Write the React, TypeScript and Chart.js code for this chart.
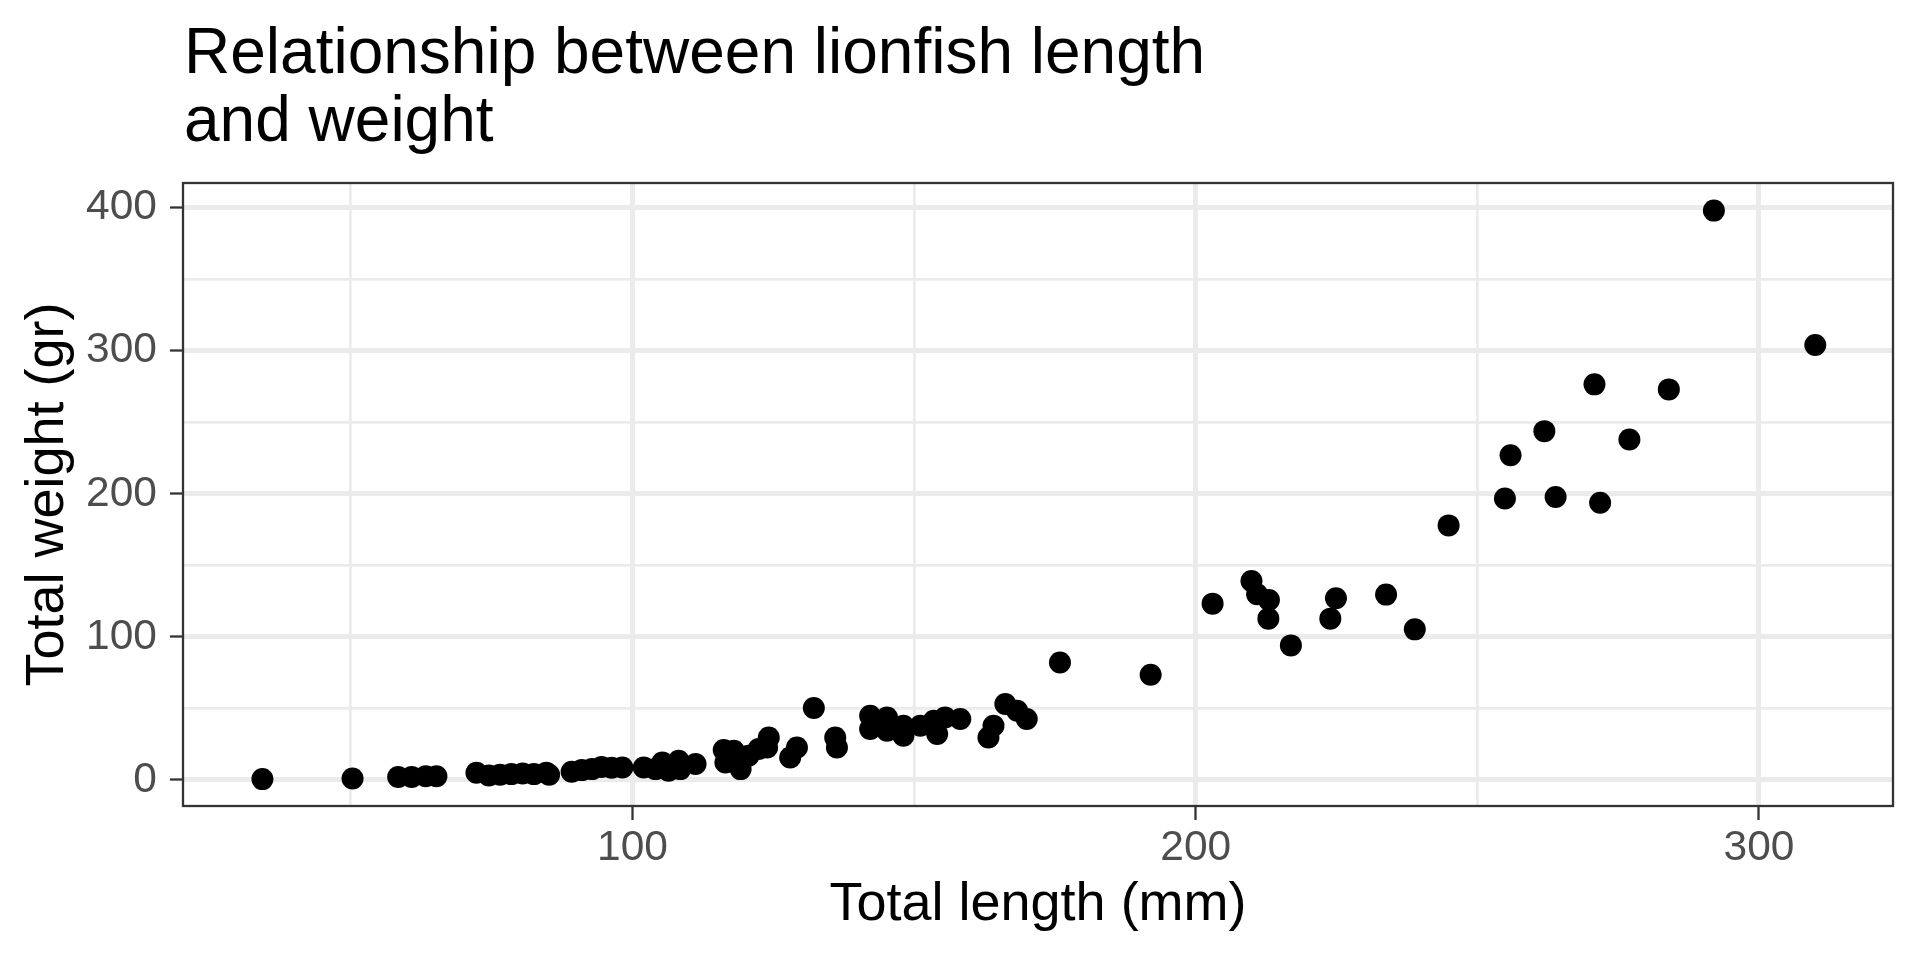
import React, { useEffect, useRef } from 'react';
import { Chart, registerables } from 'chart.js';

Chart.register(...registerables);

const TITLE_LINES = ['Relationship between lionfish length', 'and weight'];
const X_TITLE = 'Total length (mm)';
const Y_TITLE = 'Total weight (gr)';

const lengthMm = [
  34.3, 50.3, 58.4, 60.8, 63.3, 65.2, 72.3, 74.5, 76.5, 78.5,
  80.5, 82.5, 84.7, 85.2, 89.2, 91.0, 92.8, 94.5, 96.3, 98.2,
  102.0, 104.1, 105.3, 106.4, 108.2, 108.5, 111.2, 116.2, 116.5, 118.0,
  119.2, 120.6, 122.4, 123.9, 124.2, 128.0, 129.2, 132.2, 136.0, 136.3,
  142.2, 142.2, 145.2, 145.2, 148.1, 148.1, 151.1, 153.5, 154.1, 155.5,
  158.2, 163.2, 164.1, 166.2, 168.3, 170.0, 175.9, 192.0, 203.0, 209.9,
  210.9, 213.0, 212.9, 216.9, 223.9, 224.9, 233.8, 238.9, 244.9, 254.9,
  255.9, 261.9, 263.9, 270.8, 271.8, 277.0, 284.0, 292.0, 310.0,
];

const weightGr = [
  0.5, 0.9, 2.0, 2.0, 2.5, 2.5, 5.0, 3.0, 3.5, 4.0,
  4.5, 4.0, 5.0, 3.5, 5.6, 6.8, 7.5, 9.0, 8.5, 8.6,
  8.6, 7.5, 12.1, 6.3, 13.3, 7.5, 11.0, 20.8, 12.1, 20.3,
  7.5, 16.8, 21.5, 22.6, 29.6, 15.6, 22.6, 50.2, 29.6, 22.6,
  44.8, 35.5, 43.6, 34.3, 37.8, 30.8, 37.8, 41.3, 32.0, 43.6,
  42.5, 29.6, 37.8, 53.0, 48.3, 42.5, 82.1, 73.5, 123.2, 139.0,
  129.7, 125.8, 112.7, 94.0, 112.7, 126.9, 129.5, 105.2, 177.9, 196.7,
  227.0, 243.8, 197.7, 276.5, 193.7, 238.0, 273.0, 398.0, 304.0,
];

const xGridValues = [50, 100, 150, 200, 250, 300];
const xMajorValues = [100, 200, 300];
const yGridValues = [0, 50, 100, 150, 200, 250, 300, 350, 400];
const yMajorValues = [0, 100, 200, 300, 400];
const xLimits = [20.2, 323.8];
const yLimits = [-18.3, 417.3];

const FONT = '"Liberation Sans", Arial, Helvetica, sans-serif';

const panelPlugin = {
  id: 'ggPanel',
  afterDatasetsDraw(chart: any) {
    const { ctx, chartArea: a } = chart;
    ctx.save();
    ctx.strokeStyle = '#333333';
    ctx.lineWidth = 2.3;
    ctx.strokeRect(a.left, a.top, a.right - a.left, a.bottom - a.top);
    ctx.restore();
  },
  afterDraw(chart: any) {
    const { ctx, chartArea: a } = chart;
    ctx.save();
    ctx.fillStyle = '#000000';
    ctx.font = `64px ${FONT}`;
    ctx.textAlign = 'left';
    ctx.textBaseline = 'alphabetic';
    TITLE_LINES.forEach((line, i) => {
      ctx.fillText(line, a.left + 1, 73 + i * 68);
    });
    ctx.restore();
  },
};

function isMajor(list: number[], v: number) {
  return list.some((m) => Math.abs(m - v) < 1e-6);
}

export default function App() {
  const canvasRef = useRef<HTMLCanvasElement | null>(null);

  useEffect(() => {
    document.body.style.margin = '0';
    document.body.style.background = '#ffffff';
    const canvas = canvasRef.current;
    if (!canvas) return;

    const points = lengthMm.map((x, i) => ({ x, y: weightGr[i] }));

    const chart = new Chart(canvas, {
      type: 'scatter',
      data: {
        datasets: [
          {
            data: points,
            backgroundColor: '#000000',
            borderWidth: 0,
            pointRadius: 11,
            pointHoverRadius: 11,
          },
        ],
      },
      plugins: [panelPlugin],
      options: {
        animation: false,
        responsive: true,
        maintainAspectRatio: false,
        events: [],
        layout: { padding: { top: 183, right: 27, bottom: 0, left: 0 } },
        plugins: {
          legend: { display: false },
          tooltip: { enabled: false },
          title: { display: false },
        },
        scales: {
          x: {
            type: 'linear',
            position: 'bottom',
            min: xLimits[0],
            max: xLimits[1],
            afterBuildTicks: (s: any) => {
              s.ticks = xGridValues.map((v) => ({ value: v }));
            },
            afterFit: (s: any) => {
              s.height = 154;
            },
            border: { display: false },
            grid: {
              color: '#EBEBEB',
              lineWidth: (c: any) => (isMajor(xMajorValues, c.tick?.value) ? 5 : 2.7),
              tickColor: (c: any) => (isMajor(xMajorValues, c.tick?.value) ? '#333333' : 'rgba(0,0,0,0)'),
              tickWidth: 2.3,
              tickLength: 14,
              drawTicks: true,
            },
            ticks: {
              autoSkip: false,
              maxRotation: 0,
              minRotation: 0,
              padding: 3,
              color: '#4D4D4D',
              font: { family: FONT, size: 42.5, lineHeight: 1.2 },
              callback: (v: any) => (isMajor(xMajorValues, Number(v)) ? String(v) : ''),
            },
            title: {
              display: true,
              text: X_TITLE,
              color: '#000000',
              font: { family: FONT, size: 54, lineHeight: 1.2 },
              padding: { top: 0, bottom: 22 },
            },
          },
          y: {
            type: 'linear',
            position: 'left',
            min: yLimits[0],
            max: yLimits[1],
            afterBuildTicks: (s: any) => {
              s.ticks = yGridValues.map((v) => ({ value: v }));
            },
            afterFit: (s: any) => {
              s.width = 183;
            },
            border: { display: false },
            grid: {
              color: '#EBEBEB',
              lineWidth: (c: any) => (isMajor(yMajorValues, c.tick?.value) ? 5 : 2.7),
              tickColor: (c: any) => (isMajor(yMajorValues, c.tick?.value) ? '#333333' : 'rgba(0,0,0,0)'),
              tickWidth: 2.3,
              tickLength: 13,
              drawTicks: true,
            },
            ticks: {
              autoSkip: false,
              padding: 13,
              color: '#4D4D4D',
              font: { family: FONT, size: 42.5, lineHeight: 1.2 },
              callback: (v: any) => (isMajor(yMajorValues, Number(v)) ? String(v) : ''),
            },
            title: {
              display: true,
              text: Y_TITLE,
              color: '#000000',
              font: { family: FONT, size: 54, lineHeight: 1.2 },
              padding: { top: 16, bottom: 0 },
            },
          },
        },
      },
    });

    return () => {
      chart.destroy();
    };
  }, []);

  return (
    <div style={{ position: 'relative', width: '1920px', height: '960px', background: '#ffffff' }}>
      <canvas ref={canvasRef} />
    </div>
  );
}
